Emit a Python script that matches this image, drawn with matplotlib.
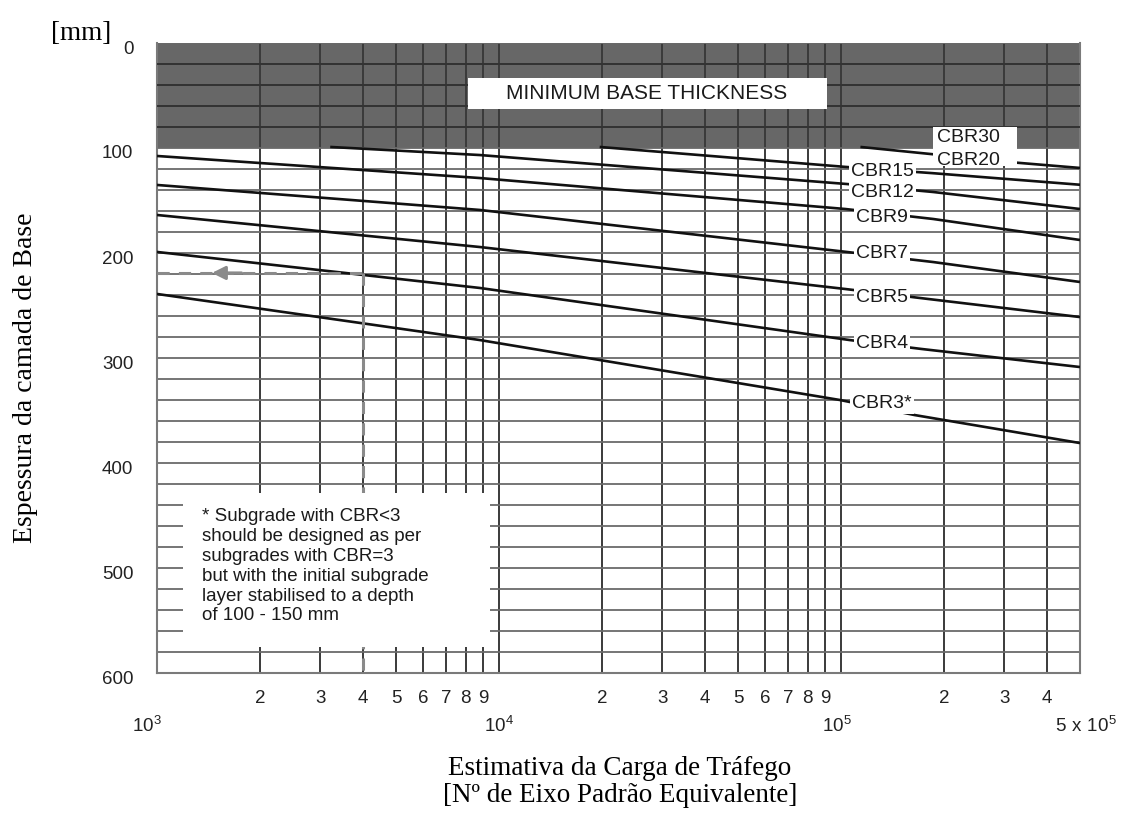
import matplotlib.pyplot as plt
from matplotlib.ticker import FixedLocator, FixedFormatter, NullFormatter
from matplotlib.transforms import ScaledTranslation
from matplotlib.patches import Rectangle

plt.rcParams['font.family'] = ['Liberation Sans', 'DejaVu Sans']
plt.rcParams['mathtext.default'] = 'regular'

# CBR design curves: traffic (esa) -> base thickness (mm)
cbr20_x = [1.14e5, 3.27e5, 5e5]
cbr20_y = [99, 114, 119]
cbr15_x = [1.97e4, 1.03e5, 1.86e5, 5e5]
cbr15_y = [99, 118, 124, 135]
cbr12_x = [3.21e3, 8.79e3, 1.04e5, 1.86e5, 5e5]
cbr12_y = [99, 106.7, 134.3, 141.9, 158.1]
cbr9_x = [1e3, 8.79e3, 1.03e5, 1.86e5, 5e5]
cbr9_y = [107.6, 128.6, 158.1, 167.6, 187.6]
cbr7_x = [1e3, 8.79e3, 1.04e5, 1.86e5, 5e5]
cbr7_y = [135.2, 159, 199, 208.6, 227.6]
cbr5_x = [1e3, 8.79e3, 1.03e5, 1.80e5, 5e5]
cbr5_y = [163.8, 194.3, 234.3, 243.8, 261]
cbr4_x = [1e3, 8.79e3, 1.06e5, 1.72e5, 5e5]
cbr4_y = [199, 233.3, 282.9, 291.4, 308.6]
cbr3_x = [1e3, 8.79e3, 9.93e4, 1.64e5, 5e5]
cbr3_y = [239, 282.9, 340, 354.3, 381]

curve_labels = ['CBR15', 'CBR12', 'CBR9', 'CBR7', 'CBR5', 'CBR4', 'CBR3*']
curve_label_x = 1.32e5
curve_label_y = [122, 142, 166, 200, 242, 286, 343]
top_labels = ['CBR30', 'CBR20']
top_label_x = 2.36e5
top_label_y = [90, 112]

min_base = 100          # minimum base thickness (mm)
guide_x = 4000          # worked example
guide_y = 219

major_x = [1e3, 1e4, 1e5, 5e5]
major_lbl = ['$10^3$', '$10^4$', '$10^5$', '$5\\ x\\ 10^5$']
minor_x = [2e3, 3e3, 4e3, 5e3, 6e3, 7e3, 8e3, 9e3,
           2e4, 3e4, 4e4, 5e4, 6e4, 7e4, 8e4, 9e4,
           2e5, 3e5, 4e5]
minor_lbl = ['2', '3', '4', '5', '6', '7', '8', '9',
             '2', '3', '4', '5', '6', '7', '8', '9',
             '2', '3', '4']
y_major = [0, 100, 200, 300, 400, 500, 600]
y_minor = list(range(0, 601, 20))

note = ("* Subgrade with CBR<3\nshould be designed as per\nsubgrades with CBR=3\n"
        "but with the initial subgrade\nlayer stabilised to a depth\nof 100 - 150 mm")

fig = plt.figure(figsize=(11.21, 8.13), dpi=100)
ax = fig.add_axes([157/1121, 1-673/813, (1080-157)/1121, (673-43)/813])
ax.set_xscale('log')
ax.set_xlim(1e3, 5e5)
ax.set_ylim(600, 0)

ax.axhspan(0, min_base, color='#676767', zorder=1, lw=0)

ax.xaxis.set_major_locator(FixedLocator(major_x))
ax.xaxis.set_major_formatter(FixedFormatter(major_lbl))
ax.xaxis.set_minor_locator(FixedLocator(minor_x))
ax.xaxis.set_minor_formatter(FixedFormatter(minor_lbl))
ax.yaxis.set_major_locator(FixedLocator(y_major))
ax.yaxis.set_minor_locator(FixedLocator(y_minor))
ax.yaxis.set_minor_formatter(NullFormatter())

ax.grid(which='both', axis='x', color='#3a3a3a', lw=1.4)
ax.grid(which='both', axis='y', color='#6a6a6a', lw=1.3)
ax.hlines([v for v in y_minor if 0 < v < min_base], 1e3, 5e5, color='#2e2e2e', lw=1.3, zorder=2.6)

ax.tick_params(which='both', length=0, labelsize=13.5, colors='#222222')
ax.tick_params(axis='x', which='minor', pad=12)
ax.tick_params(axis='x', which='major', pad=31)
ax.tick_params(axis='y', pad=17)
for lab in ax.get_yticklabels():
    lab.set_transform(lab.get_transform() + ScaledTranslation(0, -4/100, fig.dpi_scale_trans))
for lab, dx in zip(ax.get_xticklabels(), [-10, 0, -4, 6]):
    lab.set_transform(lab.get_transform() + ScaledTranslation(dx/100, 0, fig.dpi_scale_trans))

for s in ['left', 'bottom', 'right']:
    ax.spines[s].set_color('#7a7a7a')
    ax.spines[s].set_linewidth(1.5)
ax.spines['top'].set_visible(False)

curves = [(cbr20_x, cbr20_y), (cbr15_x, cbr15_y), (cbr12_x, cbr12_y), (cbr9_x, cbr9_y),
          (cbr7_x, cbr7_y), (cbr5_x, cbr5_y), (cbr4_x, cbr4_y), (cbr3_x, cbr3_y)]
for cx, cy in curves:
    ax.plot(cx, cy, color='#111111', lw=1.9, zorder=3, solid_capstyle='butt')

# worked example
ax.plot([ax.get_xlim()[0], guide_x], [guide_y, guide_y], color='#8a8a8a', lw=2.2,
        dashes=(4, 3), zorder=3)
ax.plot([guide_x, guide_x], [guide_y, ax.get_ylim()[0]], color='#8a8a8a', lw=2.2,
        dashes=(4, 3), zorder=3)
ax.annotate('', xy=(1.42e3, guide_y), xytext=(1.8e3, guide_y),
            arrowprops=dict(arrowstyle='-|>', color='#8a8a8a', lw=2.2, mutation_scale=20),
            zorder=3)

for lab, ly in zip(curve_labels, curve_label_y):
    ax.text(curve_label_x, ly, lab, fontsize=14, ha='center', va='center', color='#1a1a1a',
            zorder=6, bbox=dict(facecolor='white', edgecolor='none', pad=1.5))

# white box behind CBR30 / CBR20, cutting into the shaded band
ax.add_patch(Rectangle((1.86e5, 80), 3.27e5 - 1.86e5, 37, facecolor='white', edgecolor='none', zorder=4))
for lab, ly in zip(top_labels, top_label_y):
    ax.text(top_label_x, ly, lab, fontsize=14, ha='center', va='center', color='#1a1a1a', zorder=6)

ax.add_patch(Rectangle((8.1e3, 33.3), 9.1e4 - 8.1e3, 29.6, facecolor='white', edgecolor='none', zorder=4))
ax.text(2.71e4, 48, 'MINIMUM BASE THICKNESS', fontsize=15, ha='center', va='center',
        color='#1a1a1a', zorder=6)

ax.add_patch(Rectangle((1.19e3, 429), 9.42e3 - 1.19e3, 146, facecolor='white', edgecolor='none', zorder=4))
ax.text(1.35e3, 443, note, fontsize=13.5, ha='left', va='top', linespacing=1.22,
        color='#1a1a1a', zorder=6)

serif = ['Liberation Serif', 'DejaVu Serif']
fig.text(26/1121, 1-378/813, 'Espessura da camada de Base', rotation=90, fontsize=20,
         family=serif, ha='center', va='center')
fig.text(81/1121, 1-33/813, '[mm]', fontsize=19.5, family=serif, ha='center', va='center')
fig.text(620/1121, 1-782/813, 'Estimativa da Carga de Tráfego\n[Nº de Eixo Padrão Equivalente]',
         fontsize=19.5, family=serif, ha='center', va='center', linespacing=1.15)

fig.savefig('out.png', dpi=100, facecolor='white')
